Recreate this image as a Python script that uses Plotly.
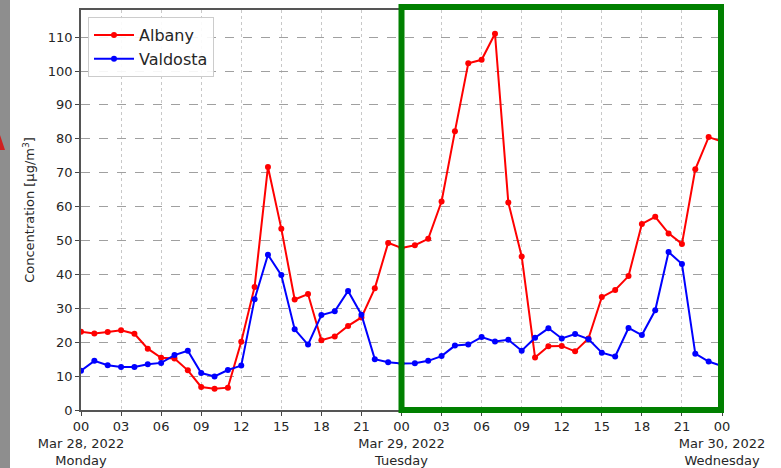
import pandas as pd
import plotly.graph_objects as go

# hourly timestamps from Mar 28 00:00 to Mar 30 00:00
times = pd.date_range("2022-03-28 00:00", periods=49, freq="h")

albany = [23.1, 22.6, 23.0, 23.5, 22.5, 18.1, 15.4, 15.2, 11.7, 6.8, 6.3, 6.6,
          20.1, 36.3, 71.7, 53.5, 32.6, 34.2, 20.6, 21.7, 24.8, 27.3, 35.9, 49.3,
          47.8, 48.6, 50.5, 61.5, 82.2, 102.3, 103.3, 111.0, 61.2, 45.3, 15.5, 18.8,
          18.9, 17.3, 21.1, 33.3, 35.4, 39.5, 54.9, 57.0, 52.1, 49.0, 71.0, 80.5, 79.2]

valdosta = [11.6, 14.5, 13.2, 12.7, 12.7, 13.5, 13.9, 16.2, 17.5, 10.9, 9.9, 11.8,
            13.1, 32.7, 45.8, 39.8, 23.8, 19.3, 28.0, 29.1, 35.1, 28.1, 15.0, 14.1,
            13.7, 13.8, 14.5, 15.9, 19.0, 19.3, 21.5, 20.2, 20.7, 17.5, 21.3, 24.1,
            21.1, 22.4, 20.9, 16.9, 15.8, 24.2, 22.1, 29.4, 46.6, 43.1, 16.6, 14.3, 13.0]

tick_times = pd.date_range("2022-03-28 00:00", periods=17, freq="3h")
tick_text = ["00<br>Mar 28, 2022<br>Monday", "03", "06", "09", "12", "15", "18", "21",
             "00<br>Mar 29, 2022<br>Tuesday", "03", "06", "09", "12", "15", "18", "21",
             "00<br>Mar 30, 2022<br>Wednesday"]
y_ticks = list(range(0, 111, 10))

highlight_start = pd.Timestamp("2022-03-29 00:00")
highlight_end = pd.Timestamp("2022-03-30 00:00")

W, H = 781, 468
L, R, T, B = 81, 59, 10, 58
PW, PH = W - L - R, H - T - B

fig = go.Figure()
fig.add_trace(go.Scatter(x=times, y=albany, name="Albany", mode="lines+markers",
                         line=dict(color="#ff0000", width=2),
                         marker=dict(color="#ff0000", size=6)))
fig.add_trace(go.Scatter(x=times, y=valdosta, name="Valdosta", mode="lines+markers",
                         line=dict(color="#0000ff", width=2),
                         marker=dict(color="#0000ff", size=6)))

fig.update_layout(
    width=W, height=H,
    margin=dict(l=L, r=R, t=T, b=B),
    paper_bgcolor="white", plot_bgcolor="white",
    font=dict(family="DejaVu Sans", size=13, color="#262626"),
    showlegend=True,
    legend=dict(x=7 / PW, y=1 - 7 / PH, xanchor="left", yanchor="top",
                bgcolor="rgba(255,255,255,0.9)", bordercolor="#cccccc", borderwidth=1,
                font=dict(size=16, color="#262626"), itemwidth=40),
)

fig.update_xaxes(
    range=[times[0], times[-1]],
    tickmode="array", tickvals=tick_times, ticktext=tick_text, tickangle=0,
    ticks="outside", ticklen=4, tickcolor="#444444",
    showgrid=True, gridcolor="#c8c8c8", griddash="dot", gridwidth=1,
    showline=True, linecolor="#555555", linewidth=1.5, mirror=True,
    tickfont=dict(size=13, color="#262626"),
    zeroline=False, automargin=False,
)
fig.update_yaxes(
    range=[0, 118],
    tickmode="array", tickvals=y_ticks,
    ticks="outside", ticklen=4, tickcolor="#444444",
    showgrid=True, gridcolor="#a0a0a0", griddash="dash", gridwidth=1,
    showline=True, linecolor="#555555", linewidth=1.5, mirror=True,
    tickfont=dict(size=13, color="#262626"),
    title=dict(text="Concentration [µg/m<sup>3</sup>]", font=dict(size=13, color="#262626"),
               standoff=10),
    zeroline=False, automargin=False,
)

# highlight box for Mar 29 (paper coords so its top edge is not clipped)
span = (times[-1] - times[0]).total_seconds()
hx0 = (highlight_start - times[0]).total_seconds() / span
hx1 = (highlight_end - times[0]).total_seconds() / span
fig.add_shape(type="rect", xref="paper", yref="paper", x0=hx0, x1=hx1 - 1 / PW,
              y0=0, y1=1 + 3 / PH, line=dict(color="#008000", width=6), layer="above")

# grey strip at the far left (screenshot edge)
fig.add_shape(type="rect", xref="paper", yref="paper", x0=-L / PW, x1=(10 - L) / PW,
              y0=-B / PH, y1=1 + T / PH, line=dict(width=0), fillcolor="#8e8e8e", layer="below")
fig.add_shape(type="path", xref="paper", yref="paper",
              path=f"M {-L / PW} {1 - (135 - T) / PH} L {(5 - L) / PW} {1 - (150 - T) / PH} "
                   f"L {-L / PW} {1 - (150 - T) / PH} Z",
              line=dict(width=0), fillcolor="#d02020", layer="below")

fig.write_html("out.html", config={"displayModeBar": False},
               post_script="document.body.style.margin='0';")
